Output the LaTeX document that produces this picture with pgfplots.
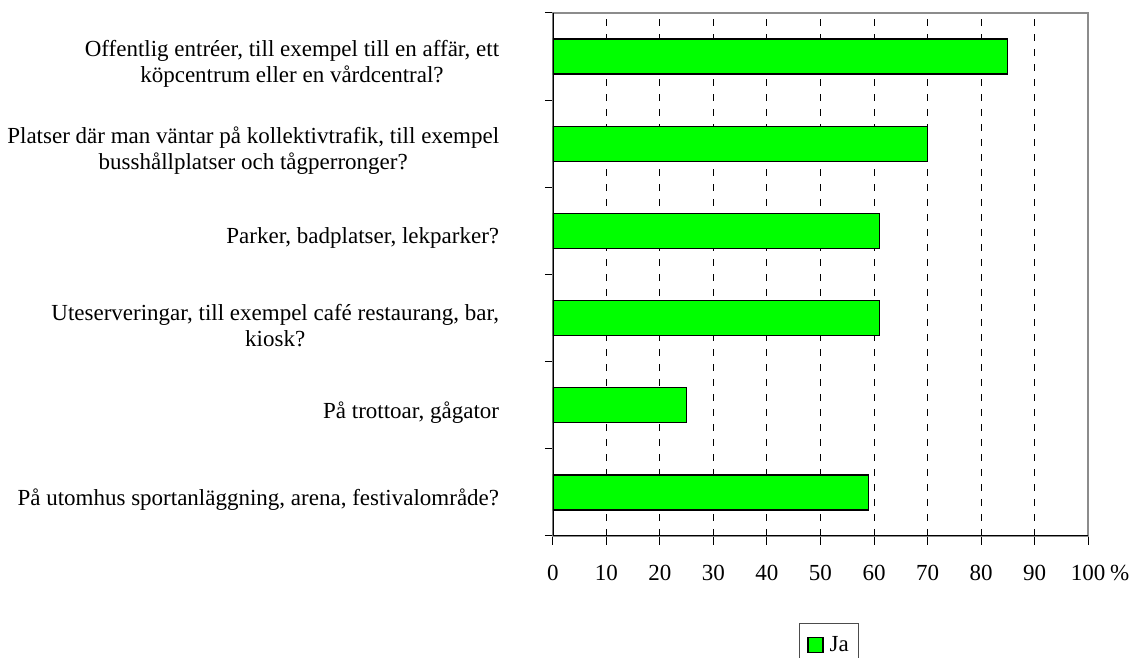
\documentclass[border=0pt]{standalone}
\usepackage{fontspec}
\setmainfont{Liberation Serif}
\usepackage{pgfplots}
\pgfplotsset{compat=1.18}
\definecolor{barGreen}{HTML}{00FF00}
\definecolor{frameGray}{HTML}{8C8C8C}

\begin{document}
\fontsize{23}{26}\selectfont
\begin{tikzpicture}
\useasboundingbox (0,0) rectangle (1136pt,658pt);
\clip (0,0) rectangle (1136pt,658pt);
\begin{axis}[
  at={(553pt,122pt)}, anchor=south west,
  scale only axis, width=535pt, height=523pt,
  xmin=0, xmax=100, ymin=0.5, ymax=6.5,
  enlargelimits=false,
  xbar, bar width=35pt,
  axis line style={frameGray, line width=1.3pt},
  tick align=outside,
  xtick pos=left, ytick pos=left,
  major tick length=9pt, minor tick length=8pt,
  tick style={black, line width=1pt},
  major y tick style={draw=none},
  xtick={0,10,...,100},
  xticklabels={0,10,20,30,40,50,60,70,80,90,100\rlap{\hspace{5pt}\%}},
  ytick={1,2,3,4,5,6},
  minor ytick={0.5,1.5,2.5,3.5,4.5,5.5,6.5},
  yticklabels={
    {På utomhus sportanläggning, arena, festivalområde?},
    {På trottoar, gågator},
    {Uteserveringar, till exempel café restaurang, bar,\\kiosk?},
    {Parker, badplatser, lekparker?},
    {Platser där man väntar på kollektivtrafik, till exempel\\busshållplatser och tågperronger?},
    {Offentlig entréer, till exempel till en affär, ett\\köpcentrum eller en vårdcentral?}},
  every tick label/.append style={font=\fontsize{23}{26}\selectfont},
  yticklabel style={align=center, xshift=-37pt, yshift=-7pt},
  xticklabel style={yshift=-12pt},
  xmajorgrids,
  grid style={black, dash pattern=on 7pt off 8pt, line width=1pt},
  legend style={at={(axis description cs:0.4598,-0.1663)}, anchor=north west,
    draw=black!70, line width=1pt, inner xsep=8pt, inner ysep=11pt,
    font=\fontsize{23}{26}\selectfont},
  legend image code/.code={\draw[#1, line width=1.2pt] (0pt,-7pt) rectangle (15pt,8pt);
    \path (19pt,0pt);},
]
\addplot[fill=barGreen, draw=black, line width=1.3pt] coordinates {
  (59,1) (25,2) (61,3) (61,4) (70,5) (85,6)
};
\addlegendentry{Ja}
\draw[black, line width=1.3pt] (rel axis cs:0,1) -- (rel axis cs:0,0) -- (rel axis cs:1,0);
\end{axis}
\end{tikzpicture}
\end{document}
